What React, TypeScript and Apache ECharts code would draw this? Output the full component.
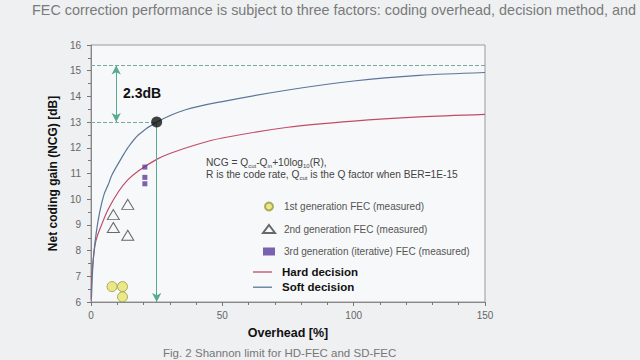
import React, { useEffect, useRef } from "react";
import * as echarts from "echarts";

// ---- data ----
const overheadSoft = [0.2, 0.5, 1, 2, 3.3, 5, 6.5, 8, 11.6, 14, 18, 25, 36, 50, 75, 100, 125, 150];
const ncgSoft = [6.2, 7.0, 7.8, 8.7, 9.5, 10.2, 10.55, 10.95, 11.6, 12.0, 12.5, 13.0, 13.48, 13.8, 14.25, 14.6, 14.82, 14.93];

const overheadHard = [0.1, 0.3, 0.8, 1.5, 2.5, 4, 6.5, 10.5, 14, 18, 25, 30, 40, 50, 75, 100, 125, 150];
const ncgHard = [6.1, 7.0, 7.6, 8.2, 8.6, 9.0, 9.6, 10.3, 10.75, 11.1, 11.55, 11.78, 12.12, 12.38, 12.8, 13.04, 13.2, 13.3];

const gen1Overhead = [8, 12, 12];
const gen1Ncg = [6.6, 6.6, 6.2];

const gen2Overhead = [8.5, 14, 8.5, 14];
const gen2Ncg = [9.4, 9.8, 8.9, 8.6];

const gen3Overhead = [20.5, 20.5, 20.5];
const gen3Ncg = [11.25, 10.85, 10.6];

const markerPoint = [25, 13];
const softLimit = 15.2;
const arrowX = 9.6;

const xTicks = { min: 0, max: 150, interval: 50 };
const yTicks = { min: 6, max: 16, interval: 1 };

const seriesNames = [
  "1st generation FEC (measured)",
  "2nd generation FEC (measured)",
  "3rd generation (iterative) FEC (measured)",
  "Hard decision",
  "Soft decision",
];

const zip = (a: number[], b: number[]) => a.map((v, i) => [v, b[i]]);

export default function App() {
  const ref = useRef<HTMLDivElement>(null);
  useEffect(() => {
    document.body.style.margin = "0";
    const chart = echarts.init(ref.current!, null, { renderer: "svg" });
    const font = "Liberation Sans, Arial, sans-serif";
    const hardColor = "#c24c66";
    const softColor = "#5a7698";
    const guideColor = "#5aaa92";
    const option: any = {
      animation: false,
      backgroundColor: "#eef0f2",
      textStyle: { fontFamily: font },
      grid: {
        left: 91,
        right: 155,
        top: 45,
        bottom: 58,
        show: true,
        backgroundColor: "#f7f8f9",
        borderColor: "#9a9a9a",
        borderWidth: 1,
      },
      xAxis: {
        type: "value",
        ...xTicks,
        minorTick: { show: true, splitNumber: 5, length: 3, lineStyle: { color: "#777" } },
        axisTick: { show: true, length: 4, lineStyle: { color: "#777" } },
        axisLine: { show: true, lineStyle: { color: "#888" } },
        splitLine: { show: false },
        axisLabel: { color: "#666", fontSize: 10, margin: 8 },
        name: "Overhead [%]",
        nameLocation: "middle",
        nameGap: 24,
        nameTextStyle: { color: "#111", fontSize: 12.5, fontWeight: "bold" },
      },
      yAxis: {
        type: "value",
        ...yTicks,
        minorTick: { show: true, splitNumber: 2, length: 3, lineStyle: { color: "#777" } },
        axisTick: { show: true, length: 4, lineStyle: { color: "#777" } },
        axisLine: { show: true, lineStyle: { color: "#888" } },
        splitLine: { show: false },
        axisLabel: { color: "#666", fontSize: 10, margin: 10 },
        name: "Net coding gain (NCG) [dB]",
        nameLocation: "middle",
        nameGap: 29,
        nameTextStyle: { color: "#111", fontSize: 12, fontWeight: "bold" },
      },
      legend: [
        {
          data: seriesNames.slice(0, 3),
          orient: "vertical",
          left: 262,
          top: 201.5,
          padding: 0,
          itemWidth: 12,
          itemHeight: 8,
          itemGap: 12.5,
          textStyle: { color: "#555", fontSize: 10, fontFamily: font, padding: [0, 0, 0, 4] },
          selectedMode: false,
        },
        {
          data: [
            { name: seriesNames[3], icon: "rect" },
            { name: seriesNames[4], icon: "rect" },
          ],
          orient: "vertical",
          left: 253,
          top: 266,
          padding: 0,
          itemWidth: 19,
          itemHeight: 1.3,
          itemGap: 3.2,
          textStyle: { color: "#111", fontSize: 11.5, fontWeight: "bold", fontFamily: font, padding: [0, 0, 0, 5] },
          selectedMode: false,
        },
      ],
      series: [
        {
          name: seriesNames[3],
          type: "line",
          data: zip(overheadHard, ncgHard),
          smooth: 0.3,
          symbol: "none",
          lineStyle: { color: hardColor, width: 1.2 },
          itemStyle: { color: hardColor },
          z: 3,
        },
        {
          name: seriesNames[4],
          type: "line",
          data: zip(overheadSoft, ncgSoft),
          smooth: 0.3,
          symbol: "none",
          lineStyle: { color: softColor, width: 1.2 },
          itemStyle: { color: softColor },
          z: 3,
        },
        {
          name: "guides",
          type: "line",
          data: [],
          markLine: {
            silent: true,
            symbol: ["none", "none"],
            label: { show: false },
            lineStyle: { color: "#7aa89a", type: "dashed", width: 1 },
            data: [
              [{ coord: [xTicks.min, softLimit] }, { coord: [xTicks.max, softLimit] }],
              [{ coord: [xTicks.min, markerPoint[1]] }, { coord: [markerPoint[0], markerPoint[1]] }],
              [
                { coord: [markerPoint[0], markerPoint[1]], symbol: "none", lineStyle: { type: "solid", color: guideColor } },
                { coord: [markerPoint[0], yTicks.min], symbol: "arrow", symbolSize: [7, 9], lineStyle: { type: "solid", color: guideColor } },
              ],
              [
                { coord: [arrowX, softLimit], symbol: "arrow", symbolSize: [7, 9], lineStyle: { type: "solid", color: guideColor } },
                { coord: [arrowX, markerPoint[1]], symbol: "arrow", symbolSize: [7, 9], lineStyle: { type: "solid", color: guideColor } },
              ],
            ],
          },
          z: 2,
        },
        {
          name: seriesNames[0],
          type: "scatter",
          data: zip(gen1Overhead, gen1Ncg),
          symbol: "circle",
          symbolSize: 10,
          itemStyle: { color: "#e6e46c", borderColor: "#9a9a40", borderWidth: 1 },
          z: 4,
        },
        {
          name: seriesNames[1],
          type: "scatter",
          data: zip(gen2Overhead, gen2Ncg),
          symbol: "triangle",
          symbolSize: [12, 10],
          itemStyle: { color: "rgba(255,255,255,0)", borderColor: "#444", borderWidth: 1 },
          z: 4,
        },
        {
          name: seriesNames[2],
          type: "scatter",
          data: zip(gen3Overhead, gen3Ncg),
          symbol: "rect",
          symbolSize: 5,
          itemStyle: { color: "#5a3c9c" },
          z: 4,
        },
        {
          name: "limit point",
          type: "scatter",
          data: [markerPoint],
          symbol: "circle",
          symbolSize: 11,
          itemStyle: { color: "#111" },
          z: 5,
        },
      ],
      graphic: [
        {
          type: "text",
          left: 32,
          top: 3,
          style: {
            text: "FEC correction performance is subject to three factors: coding overhead, decision method, and",
            fill: "#7a7a7a",
            font: "14.4px Liberation Sans, Arial, sans-serif",
          },
        },
        {
          type: "text",
          left: 123,
          top: 86,
          style: {
            text: "2.3dB",
            fill: "#111",
            font: "bold 14px Liberation Sans, Arial, sans-serif",
          },
        },
        {
          type: "text",
          left: 206,
          top: 156,
          style: {
            text: "NCG = Q{sub|cut}-Q{sub|in}+10log{sub|10}(R),\nR is the code rate, Q{sub|cut} is the Q factor when BER=1E-15",
            fill: "#444",
            font: "10.2px Liberation Sans, Arial, sans-serif",
            lineHeight: 12.5,
            rich: {
              sub: { fontSize: 6, fill: "#444", verticalAlign: "bottom", padding: [4, 0, 0, 0] },
            },
          },
        },
        {
          type: "text",
          left: 163,
          top: 347,
          style: {
            text: "Fig. 2 Shannon limit for HD-FEC and SD-FEC",
            fill: "#777",
            font: "11.5px Liberation Sans, Arial, sans-serif",
          },
        },
      ],
    };
    chart.setOption(option);
    return () => chart.dispose();
  }, []);
  return (
    <div
      ref={ref}
      style={{ position: "absolute", left: 0, top: 0, width: 640, height: 360 }}
    />
  );
}
